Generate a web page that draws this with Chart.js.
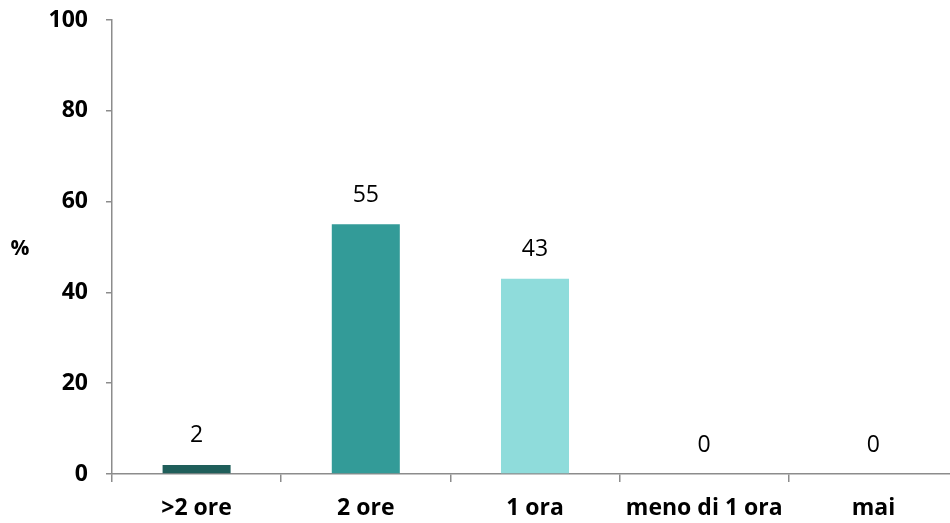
<!DOCTYPE html>
<html>
<head>
<meta charset="utf-8">
<script src="https://cdn.jsdelivr.net/npm/chart.js@4/dist/chart.umd.min.js"></script>
<style>
  html, body { margin: 0; padding: 0; background: #fff; overflow: hidden; }
  #wrap { width: 958px; height: 523px; }
</style>
</head>
<body>
<div id="wrap"><canvas id="myChart"></canvas></div>
<script>
// ---- data ----
var categories = ['>2 ore', '2 ore', '1 ora', 'meno di 1 ora', 'mai']
var values = [2, 55, 43, 0, 0]
var barColors = ['#1f5e5a', '#339b98', '#8fdcdb', '#8fdcdb', '#8fdcdb']
var yTicks = [0, 20, 40, 60, 80, 100]
var yLabel = '%'

var fontFam = "'Open Sans', Lato, sans-serif"

// value labels over the bars + the "%" label
var extraText = {
    id: 'extraText',
    afterDatasetsDraw: function (chart) {
        var ctx = chart.ctx
        var meta = chart.getDatasetMeta(0)
        ctx.save()
        ctx.fillStyle = '#000'
        ctx.font = '23px ' + fontFam
        ctx.textAlign = 'center'
        ctx.textBaseline = 'middle'
        meta.data.forEach(function (bar, i) {
            ctx.fillText(String(values[i]), bar.x, bar.y - 29)
        })
        ctx.font = 'bold 21px ' + fontFam
        ctx.fillText(yLabel, 20, 249)
        ctx.restore()
    }
}

var ctx = document.getElementById('myChart').getContext('2d')
var chart = new Chart(ctx, {
    type: 'bar',
    data: {
        labels: categories,
        datasets: [{
            data: values,
            backgroundColor: barColors,
            barPercentage: 1,
            categoryPercentage: 0.402
        }]
    },
    options: {
        responsive: true,
        maintainAspectRatio: false,
        animation: false,
        layout: { padding: { top: 20, right: 0, left: 0, bottom: 0 } },
        plugins: {
            legend: { display: false },
            tooltip: { enabled: false }
        },
        scales: {
            x: {
                offset: true,
                grid: {
                    offset: true,
                    drawOnChartArea: false,
                    tickLength: 8,
                    color: '#8c8c8c',
                    lineWidth: 1.5
                },
                border: { color: '#8c8c8c', width: 1.5 },
                ticks: {
                    color: '#000',
                    padding: 13,
                    font: { family: fontFam, size: 23, weight: 'bold' }
                },
                afterFit: function (scale) {
                    scale.height = 49
                    scale.paddingLeft = 0
                    scale.paddingRight = 0
                }
            },
            y: {
                min: 0,
                max: 100,
                afterBuildTicks: function (scale) {
                    scale.ticks = yTicks.map(function (v) { return { value: v } })
                },
                grid: {
                    drawOnChartArea: false,
                    tickLength: 6,
                    color: '#8c8c8c',
                    lineWidth: 1.5
                },
                border: { color: '#8c8c8c', width: 1.5 },
                ticks: {
                    color: '#000',
                    padding: 18,
                    font: { family: fontFam, size: 23, weight: 'bold' }
                },
                afterFit: function (scale) {
                    scale.width = 112
                    scale.paddingTop = 0
                    scale.paddingBottom = 0
                }
            }
        }
    },
    plugins: [extraText]
})
</script>
</body>
</html>
